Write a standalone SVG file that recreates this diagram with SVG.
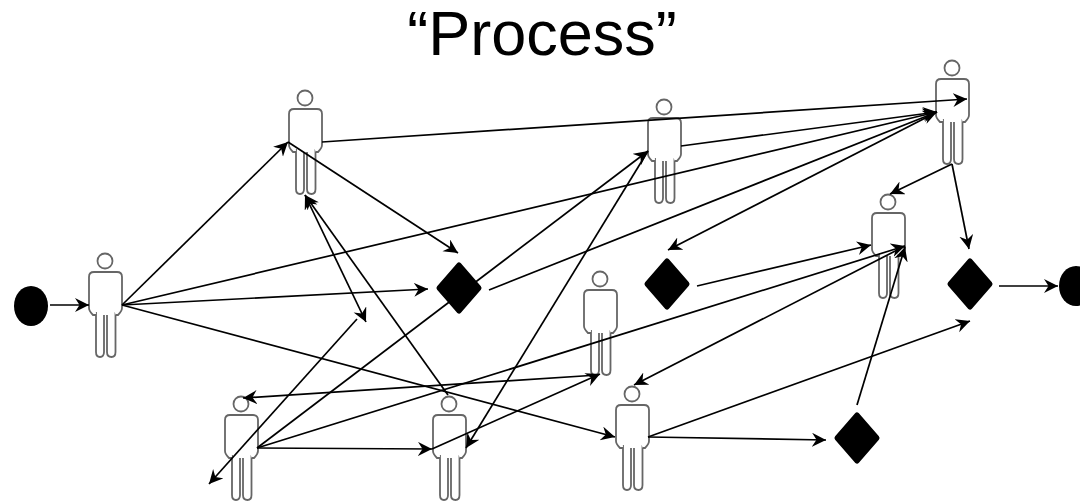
<svg xmlns="http://www.w3.org/2000/svg" width="1080" height="501" viewBox="0 0 1080 501">
<style>
.fig{fill:#fff;stroke:#666;stroke-width:1.8}
.blk{fill:#000}
.dia{fill:#000;stroke:#000;stroke-width:5;stroke-linejoin:round}
.c line{stroke:#000;stroke-width:1.7;fill:none;marker-end:url(#a)}
.c line.s{marker-start:url(#b)}
text{font-family:"Liberation Sans",Arial,sans-serif;font-size:63px;fill:#000}
</style>
<defs>
<marker id="a" markerUnits="userSpaceOnUse" markerWidth="18" markerHeight="16" refX="14" refY="7" orient="auto"><path d="M0 0L14 7L0 14L4.5 7Z" fill="#000"/></marker>
<marker id="b" markerUnits="userSpaceOnUse" markerWidth="18" markerHeight="16" refX="14" refY="7" orient="auto-start-reverse"><path d="M0 0L14 7L0 14L4.5 7Z" fill="#000"/></marker>
<g id="p">
<circle class="fig" cx="0" cy="9" r="7.5"/>
<path class="fig" d="M-9 60V100Q-9 105 -5 105Q-1 105 -1 100V63M2 63V100Q2 105 6.500 105Q10.500 105 10.500 100V60"/>
<path class="fig" d="M-11 20H12Q17 20 17 25V56Q17 59 13 63H11M-9 63H-12Q-16 59 -16 56V25Q-16 20 -11 20" fill="#fff"/>
</g>
</defs>
<text x="542" y="55" text-anchor="middle">“Process”</text>
<g id="start"><ellipse class="blk" cx="31" cy="306" rx="17" ry="20"/></g>
<g id="end"><ellipse class="blk" cx="1076" cy="286" rx="17" ry="20"/></g>
<g id="person1"><use href="#p" x="105" y="252"/></g>
<g id="person2"><use href="#p" x="305" y="89"/></g>
<g id="person3"><use href="#p" x="664" y="98"/></g>
<g id="person4"><use href="#p" x="952" y="59"/></g>
<g id="person5"><use href="#p" x="888" y="193"/></g>
<g id="person6"><use href="#p" x="600" y="270"/></g>
<g id="person7"><use href="#p" x="241" y="395"/></g>
<g id="person8"><use href="#p" x="449" y="395"/></g>
<g id="person9"><use href="#p" x="632" y="385"/></g>
<g id="diamond1"><path class="dia" d="M459 265L479 288L459 311L439 288Z"/></g>
<g id="diamond2"><path class="dia" d="M667 261L687 284L667 307L647 284Z"/></g>
<g id="diamond3"><path class="dia" d="M970 261L990 284L970 307L950 284Z"/></g>
<g id="diamond4"><path class="dia" d="M857 415L877 438L857 461L837 438Z"/></g>
<g id="connectors" class="c">
<line x1="50" y1="305" x2="89" y2="305"/>
<line x1="122" y1="305" x2="288" y2="142"/>
<line x1="122" y1="305" x2="937" y2="112"/>
<line x1="122" y1="305" x2="428" y2="289"/>
<line x1="122" y1="305" x2="615" y2="437"/>
<line x1="322" y1="142" x2="967" y2="99"/>
<line x1="288" y1="142" x2="458" y2="253"/>
<line class="s" x1="305" y1="195" x2="366" y2="322"/>
<line x1="448" y1="395" x2="305" y2="195"/>
<line x1="357" y1="319" x2="209" y2="484"/>
<line x1="257" y1="448" x2="648" y2="151"/>
<line x1="257" y1="448" x2="432" y2="449"/>
<line x1="257" y1="448" x2="905" y2="246"/>
<line x1="648" y1="151" x2="466" y2="448"/>
<line x1="681" y1="146" x2="937" y2="112"/>
<line x1="489" y1="290" x2="937" y2="112"/>
<line x1="937" y1="112" x2="668" y2="250"/>
<line x1="697" y1="286" x2="871" y2="245"/>
<line x1="952" y1="164" x2="890" y2="194"/>
<line x1="952" y1="164" x2="969" y2="249"/>
<line x1="999" y1="286" x2="1058" y2="286"/>
<line x1="598" y1="375" x2="243" y2="398"/>
<line x1="432" y1="449" x2="600" y2="374"/>
<line x1="905" y1="246" x2="634" y2="385"/>
<line x1="648" y1="437" x2="970" y2="321"/>
<line x1="648" y1="437" x2="826" y2="440"/>
<line x1="857" y1="405" x2="905" y2="247"/>
</g>
</svg>
